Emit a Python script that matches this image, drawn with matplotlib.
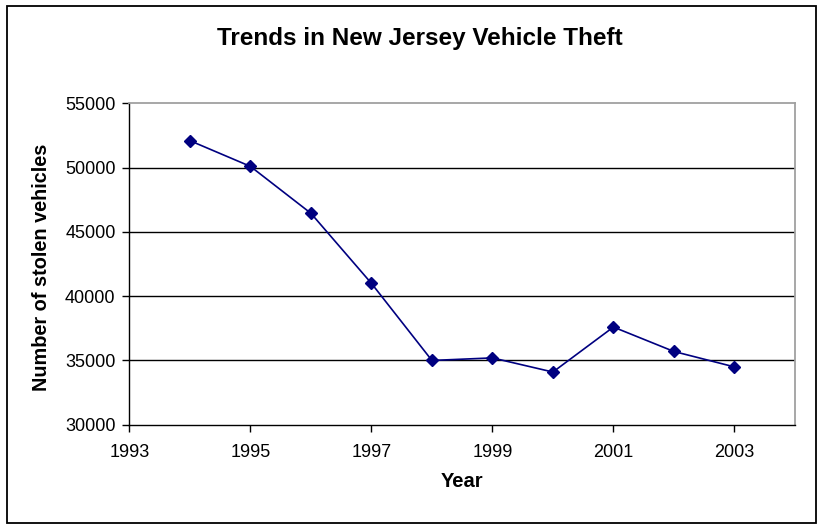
import matplotlib
matplotlib.use('Agg')
import matplotlib.pyplot as plt
from matplotlib.patches import Rectangle

plt.rcParams['font.family'] = ['Liberation Sans', 'DejaVu Sans']

# stolen vehicles per year
years = [1994, 1995, 1996, 1997, 1998, 1999, 2000, 2001, 2002, 2003]
stolen = [52100, 50100, 46450, 41000, 35000, 35200, 34100, 37600, 35700, 34500]
xticks = [1993, 1995, 1997, 1999, 2001, 2003]
yticks = [30000, 35000, 40000, 45000, 50000, 55000]

fig = plt.figure(figsize=(8.22, 5.25), dpi=100)
ax = fig.add_axes([0.1575, 0.191, 0.8095, 0.612])

# outer chart border
fig.patches.append(Rectangle((6.5/822, 2.5/525), 809/822, 517/525,
                             transform=fig.transFigure, fill=False,
                             ec='black', lw=1.3))

for y in yticks[1:-1]:
    ax.axhline(y, color='black', lw=1.0, zorder=1)

ax.plot(years, stolen, color='#000080', lw=1.2, marker='D', ms=6.5,
        zorder=3, clip_on=False)

ax.set_xlim(1993, 2004)
ax.set_ylim(30000, 55000)
ax.set_xticks(xticks)
ax.set_yticks(yticks)
ax.tick_params(labelsize=13, length=5, width=1, direction='out',
               color='black')
ax.tick_params(axis='x', pad=9)
ax.tick_params(axis='y', pad=5)

for s in ['top', 'right']:
    ax.spines[s].set_color('#a0a0a0')
    ax.spines[s].set_linewidth(1.3)
for s in ['left', 'bottom']:
    ax.spines[s].set_color('black')
    ax.spines[s].set_linewidth(1.0)

ax.set_xlabel('Year', fontsize=14.5, fontweight='bold', labelpad=8)
ax.set_ylabel('Number of stolen vehicles', fontsize=14.3, fontweight='bold')
ax.yaxis.set_label_coords(-0.118, 0.49)
fig.text(0.511, 0.927, 'Trends in New Jersey Vehicle Theft', ha='center',
         va='center', fontsize=17.5, fontweight='bold')

fig.savefig('out.png', dpi=100)
